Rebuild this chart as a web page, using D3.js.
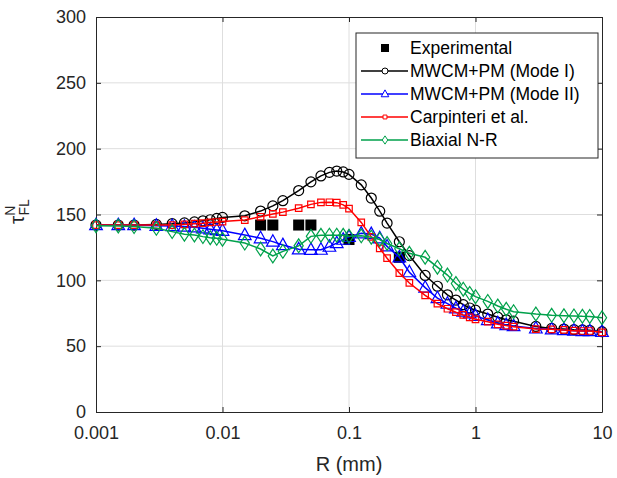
<!DOCTYPE html>
<html>
<head>
<meta charset="utf-8">
<script src="https://cdnjs.cloudflare.com/ajax/libs/d3/7.8.5/d3.min.js"></script>
<style>
  body { margin: 0; background: #fff; }
  text { font-family: "Liberation Sans", Arial, sans-serif; }
</style>
</head>
<body>
<svg width="617" height="478"></svg>
<script>
var radius = [0.001, 0.0015, 0.002, 0.003, 0.004, 0.005, 0.006, 0.007, 0.008, 0.009, 0.01,
  0.015, 0.02, 0.025, 0.03, 0.04, 0.05, 0.06, 0.07, 0.08, 0.09, 0.1,
  0.125, 0.15, 0.175, 0.2, 0.25, 0.3, 0.4, 0.5, 0.6, 0.7, 0.8, 0.9, 1,
  1.25, 1.5, 1.75, 2, 3, 4, 5, 6, 7, 8, 10];

var modeI = [142, 142, 142, 142.5, 143, 143.6, 144.4, 145.2, 146, 147, 147.8,
  149, 152.6, 156.5, 160.5, 168.2, 174.8, 179.3, 182, 183, 182.3, 180.5,
  172.5, 162.5, 152.5, 143.5, 129.3, 118.8, 103.7, 95.5, 89, 85, 81.5, 79, 77.3,
  74.4, 72, 70, 69, 65, 63.5, 63, 62.5, 62.3, 62, 61];

var modeII = [142, 142, 142, 141.5, 141.3, 140.8, 140.3, 139.5, 138.8, 138.2, 137.7,
  134.4, 132, 129.4, 126.8, 123.6, 123.2, 123.3, 125.6, 128.3, 130.9, 133,
  135.7, 135.2, 132, 125.8, 117.5, 106.2, 94.5, 86.5, 82.3, 78.8, 76.3, 75, 73,
  69.9, 67.4, 66.1, 65.3, 63.5, 62.8, 62.3, 61.8, 61.5, 61.5, 61];

var carpinteri = [142, 142, 142, 142, 142, 142.5, 143, 143.4, 144, 144.3, 144.6,
  145.8, 148.3, 150.4, 151.8, 154.8, 157.7, 159.2, 159.3, 159, 157.3, 154.5,
  144, 133, 124.3, 116.8, 105.5, 98, 88.6, 82.3, 78.4, 75.8, 73.7, 71.9, 70.4,
  68.6, 66.6, 65.6, 64.8, 63, 62.8, 62.3, 61.8, 61.5, 61.5, 60.5];

var biaxial = [141.5, 141.3, 140.8, 139.5, 137, 135, 134.4, 133.2, 132.4, 131.9, 131.2,
  128.3, 123.8, 118.5, 122, 126.2, 133.4, 134.2, 134.3, 134.3, 134.2, 133.5,
  133.8, 132.8, 131, 128, 124, 120.5, 117.5, 110, 104, 97.6, 93.3, 90.1, 87.6,
  84, 80.5, 78, 76.2, 74.4, 73.4, 73.1, 73, 72.7, 72.6, 71.6];

var expR = [0.02, 0.025, 0.04, 0.05, 0.1, 0.25];
var expTau = [142, 142, 142, 142, 131, 117.5];

var xTicks = [0.001, 0.01, 0.1, 1, 10];
var yTicks = [0, 50, 100, 150, 200, 250, 300];

var series = [
  {name: "MWCM+PM (Mode I)", values: modeI, color: "#000000", marker: "circle"},
  {name: "MWCM+PM (Mode II)", values: modeII, color: "#0000ff", marker: "triangle"},
  {name: "Carpinteri et al.", values: carpinteri, color: "#ff0000", marker: "square"},
  {name: "Biaxial N-R", values: biaxial, color: "#00a14b", marker: "diamond"}
];

var padL = 96, padR = 602, padT = 17, padB = 412;
var axisColor = "#262626";

var svg = d3.select("svg");

var x = d3.scaleLog().domain([0.001, 10]).range([padL, padR]);
var y = d3.scaleLinear().domain([0, 300]).range([padB, padT]);

// grid
svg.append("g").selectAll("line")
  .data(xTicks.slice(1, -1))
  .enter().append("line")
  .attr("x1", d => x(d)).attr("x2", d => x(d))
  .attr("y1", padT).attr("y2", padB)
  .attr("stroke", "#dedede").attr("stroke-width", 1);

svg.append("g").selectAll("line")
  .data(yTicks.slice(1, -1))
  .enter().append("line")
  .attr("x1", padL).attr("x2", padR)
  .attr("y1", d => y(d)).attr("y2", d => y(d))
  .attr("stroke", "#dedede").attr("stroke-width", 1);

// axes
var xAxis = d3.axisBottom(x).tickValues(xTicks).tickFormat(d3.format("")).tickSizeInner(-5).tickSizeOuter(0).tickPadding(14);
var yAxis = d3.axisLeft(y).tickValues(yTicks).tickSizeInner(-5).tickSizeOuter(0).tickPadding(10);

var gx = svg.append("g").attr("transform", "translate(0," + padB + ")").call(xAxis);
var gy = svg.append("g").attr("transform", "translate(" + padL + ",0)").call(yAxis);
var gxTop = svg.append("g").attr("transform", "translate(0," + padT + ")")
  .call(d3.axisTop(x).tickValues(xTicks).tickSizeInner(-5).tickSizeOuter(0).tickFormat(""));
var gyRight = svg.append("g").attr("transform", "translate(" + padR + ",0)")
  .call(d3.axisRight(y).tickValues(yTicks).tickSizeInner(-5).tickSizeOuter(0).tickFormat(""));

[gx, gy, gxTop, gyRight].forEach(function(g) {
  g.select(".domain").attr("stroke", axisColor);
  g.selectAll(".tick line").attr("stroke", axisColor);
  g.selectAll(".tick text").attr("fill", "#262626").style("font-size", "18px")
    .style("font-family", "'Liberation Sans', Arial, sans-serif");
});

var plot = svg.append("g");

function markerPath(type, s) {
  if (type === "circle") return d3.symbol(d3.symbolCircle, s * s * 0.785)();
  if (type === "triangle") return "M0," + (-s * 0.6) + "L" + (s * 0.55) + "," + (s * 0.4) + "L" + (-s * 0.55) + "," + (s * 0.4) + "Z";
  if (type === "square") return "M" + (-s / 2) + "," + (-s / 2) + "h" + s + "v" + s + "h" + (-s) + "Z";
  if (type === "diamond") return "M0," + (-s * 0.6) + "L" + (s * 0.4) + ",0L0," + (s * 0.6) + "L" + (-s * 0.4) + ",0Z";
}
var markerSize = {circle: 10, triangle: 11.5, square: 6.5, diamond: 11.5};

// experimental points
plot.selectAll("rect")
  .data(expR)
  .enter().append("rect")
  .attr("x", d => x(d) - 5.5)
  .attr("y", (d, i) => y(expTau[i]) - 5.5)
  .attr("width", 11).attr("height", 11)
  .attr("fill", "#000");

var line = d3.line()
  .x((d, i) => x(radius[i]))
  .y(d => y(d));

series.forEach(function(s) {
  plot.append("path")
    .attr("d", line(s.values))
    .attr("fill", "none")
    .attr("stroke", s.color)
    .attr("stroke-width", 1.5);
  plot.append("g").selectAll("path")
    .data(s.values)
    .enter().append("path")
    .attr("d", markerPath(s.marker, markerSize[s.marker]))
    .attr("transform", (d, i) => "translate(" + x(radius[i]) + "," + y(d) + ")")
    .attr("fill", "none")
    .attr("stroke", s.color)
    .attr("stroke-width", 1.2);
});

// legend
var legend = svg.append("g");
legend.append("rect")
  .attr("x", 356).attr("y", 33).attr("width", 242).attr("height", 125)
  .attr("fill", "#fff").attr("stroke", axisColor).attr("stroke-width", 1);

var rowY = d3.scalePoint().domain(d3.range(5)).range([48, 140]);

legend.append("rect")
  .attr("x", 381).attr("y", rowY(0) - 4).attr("width", 8).attr("height", 8).attr("fill", "#000");
legend.append("text")
  .attr("x", 410).attr("y", rowY(0) + 6)
  .style("font-size", "17.5px").attr("fill", "#000").text("Experimental");

series.forEach(function(s, i) {
  var yy = rowY(i + 1);
  legend.append("line")
    .attr("x1", 361).attr("x2", 408).attr("y1", yy).attr("y2", yy)
    .attr("stroke", s.color).attr("stroke-width", 1.3);
  legend.append("path")
    .attr("d", markerPath(s.marker, markerSize[s.marker] * 0.6))
    .attr("transform", "translate(385," + yy + ")")
    .attr("fill", "#fff").attr("stroke", s.color);
  legend.append("text")
    .attr("x", 410).attr("y", yy + 6)
    .style("font-size", "17.5px").attr("fill", "#000").text(s.name);
});

// axis labels
svg.append("text")
  .attr("x", (padL + padR) / 2).attr("y", 471)
  .attr("text-anchor", "middle")
  .style("font-size", "20px").attr("fill", "#262626")
  .text("R (mm)");

var yl = svg.append("text")
  .attr("transform", "translate(24,224) rotate(-90)")
  .attr("fill", "#262626");
yl.append("tspan").style("font-size", "21px").text("τ");
yl.append("tspan").style("font-size", "14px").attr("dy", -9).text("N");
yl.append("tspan").style("font-size", "14px").attr("dx", -10).attr("dy", 14).text("FL");
</script>
</body>
</html>
